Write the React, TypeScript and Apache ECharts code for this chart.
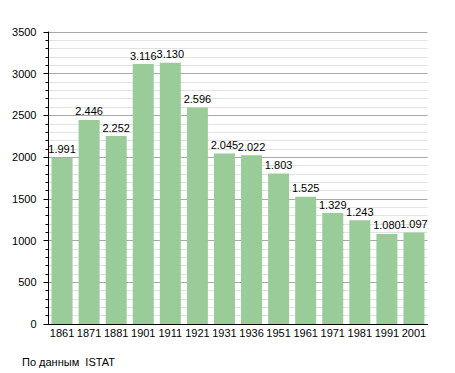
import React, { useEffect, useRef } from "react";
import * as echarts from "echarts";

const years = ["1861", "1871", "1881", "1901", "1911", "1921", "1931", "1936", "1951", "1961", "1971", "1981", "1991", "2001"];
const population = [1991, 2446, 2252, 3116, 3130, 2596, 2045, 2022, 1803, 1525, 1329, 1243, 1080, 1097];
const footer = "По данным  ISTAT";

const fmt = (v: number) => {
  const s = String(v);
  return s.length > 3 ? s.slice(0, s.length - 3) + "." + s.slice(s.length - 3) : s;
};

export default function App() {
  const ref = useRef<HTMLDivElement>(null);
  useEffect(() => {
    document.body.style.margin = "0";
    const chart = echarts.init(ref.current!, null, { renderer: "svg" });
    const font = "'Liberation Sans', Arial, sans-serif";
    chart.setOption({
      animation: false,
      backgroundColor: "#ffffff",
      grid: { left: 48.5, top: 32, width: 379, bottom: 49 },
      xAxis: {
        type: "category",
        data: years,
        axisLine: { show: true, lineStyle: { color: "#000", width: 1 } },
        axisTick: { show: false },
        axisLabel: { color: "#000", fontSize: 11, fontFamily: font, margin: 3, interval: 0 },
        splitLine: { show: false },
      },
      yAxis: {
        type: "value",
        min: 0,
        max: 3500,
        interval: 500,
        axisLine: { show: true, lineStyle: { color: "#000", width: 1 } },
        axisTick: { show: true, length: 5, lineStyle: { color: "#000" } },
        minorTick: { show: true, splitNumber: 5, length: 3, lineStyle: { color: "#000" } },
        axisLabel: {
          color: "#000",
          fontSize: 11,
          fontFamily: font,
          margin: 12,
          formatter: (v: number) => String(v),
        },
        splitLine: { show: true, lineStyle: { color: "#a8a8a8", width: 1 } },
        minorSplitLine: { show: true, lineStyle: { color: "#e2e2e2", width: 1 } },
      },
      series: [
        {
          type: "bar",
          data: population,
          barWidth: 21,
          itemStyle: { color: "#99cc99" },
          label: {
            show: true,
            position: "top",
            distance: 3,
            color: "#000",
            fontSize: 11,
            fontFamily: font,
            formatter: (p: any) => fmt(p.value),
          },
        },
      ],
      graphic: [
        {
          type: "text",
          left: 22,
          top: 356,
          style: { text: footer, fill: "#000", fontSize: 11, fontFamily: font },
        },
      ],
    });
    return () => chart.dispose();
  }, []);
  return <div ref={ref} style={{ width: 455, height: 373 }} />;
}
